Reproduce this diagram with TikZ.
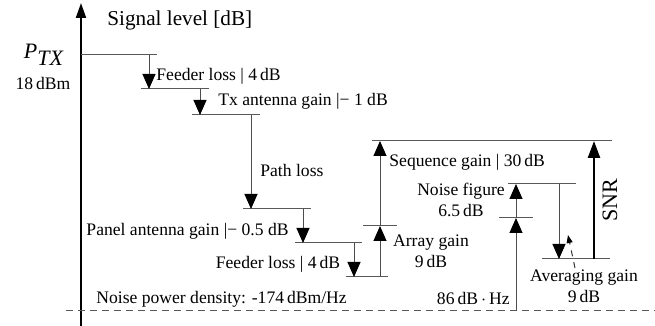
\documentclass[tikz,border=0pt]{standalone}
\usepackage{fontspec}
\setmainfont{Liberation Serif}
\usetikzlibrary{arrows.meta}

\begin{document}
\begin{tikzpicture}[x=0.5pt,y=-0.5pt,
  level/.style={draw=black!65,line width=0.5pt},
  gain/.style={draw=black!70,line width=0.5pt,-{Triangle[length=7.5pt,width=6.5pt,color=black]}},
  lbl/.style={font=\fontsize{8.8}{10.5}\selectfont,inner sep=0pt,align=center}]
\useasboundingbox (0,0) rectangle (655,326);
\coordinate (o) at (81,326);
\coordinate (top) at (81,3);
\draw[line width=1pt,-{Triangle[length=7.5pt,width=5pt]}] (o) -- (top);
\node[lbl,font=\fontsize{10.6}{12}\selectfont,anchor=west] (title) at (107,20) {Signal level [dB]};
\node[lbl,font=\fontsize{11}{12}\selectfont] (ptx) at (44,55) {\textit{P}$_{\textit{TX}}$};
\node[lbl] (ptxval) at (43,83) {18\,dBm};
\foreach \n/\y/\a/\b in {l0/55/81/157, l1/89/141/209, l2/115/192/260, l3/209/243/311,
    l4/243/295/362, l5/277/346/388, l6/226/363/397, l7/141/372/612,
    l8/218/499/533, l9/184/508/576, l10/259/542/610}
  \draw[level] (\a,\y) coordinate (\n) -- (\b,\y);
\draw[level,dash pattern=on 3.5pt off 2.5pt] (66,311) coordinate (nf) -- (655,311);
\foreach \x/\f/\t in {149/l0/l1, 200/l1/l2, 251/l2/l3, 303/l3/l4, 354/l4/l5,
    380/l5/l6, 380/l6/l7, 516/nf/l8, 516/l8/l9, 559/l9/l10}
  \draw[gain] (\x,0 |- \f) -- (\x,0 |- \t);
\draw[line width=1.2pt,-{Triangle[length=8.5pt,width=6pt]}] (594,0 |- l10) -- (594,0 |- l7);
\coordinate (avgs) at (575,268);
\coordinate (avge) at (568,235);
\draw[black!80,line width=0.5pt,dashed,-{Triangle[length=4pt,width=3pt,color=black]}] (avgs) -- (avge);
\node[lbl,anchor=west] (feed1) at (156,76) {Feeder loss | 4\,dB};
\node[lbl,anchor=west] (txant) at (218,101) {Tx antenna gain |− 1 dB};
\node[lbl,anchor=west] (path) at (260,170) {Path loss};
\node[lbl,anchor=east] (panel) at (289,231) {Panel antenna gain |− 0.5 dB};
\node[lbl] (feed2) at (278,264) {Feeder loss | 4\,dB};
\node[lbl] (array) at (431,251) {Array gain\\9\,dB};
\node[lbl,anchor=west] (seq) at (389,162) {Sequence gain | 30\,dB};
\node[lbl] (nfig) at (461,200) {Noise figure\\6.5\,dB};
\node[lbl,anchor=east] (ktb) at (510,298) {86\,dB\,$\cdot$\,Hz};
\node[lbl] (avg) at (584,286) {Averaging gain\\9\,dB};
\node[lbl,anchor=west] (noise) at (96,299) {Noise power density: -174\,dBm/Hz};
\node[lbl,font=\fontsize{11}{13}\selectfont,rotate=90] (snr) at (610,200) {SNR};
\end{tikzpicture}
\end{document}
